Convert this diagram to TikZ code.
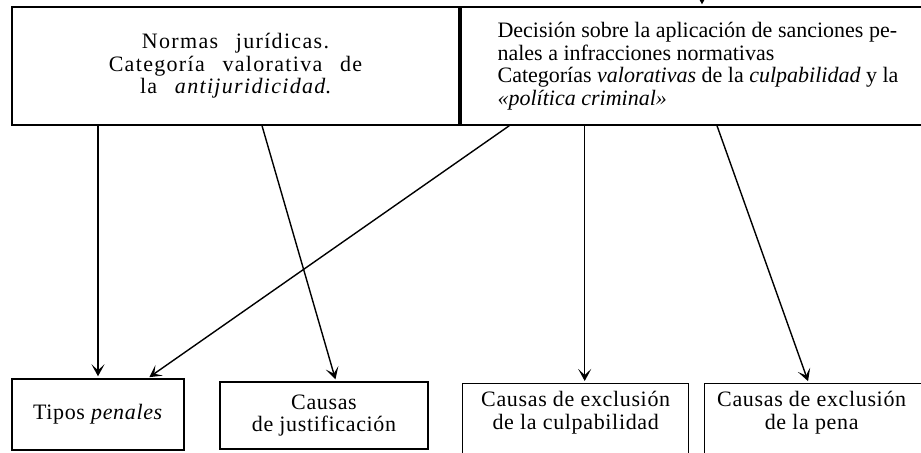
\documentclass[tikz,border=0pt]{standalone}
\usepackage{fontspec}
\setmainfont{Liberation Serif}
\newfontfamily\widefont[LetterSpace=6,WordSpace=2.6]{Liberation Serif}
\newfontfamily\looseFont[LetterSpace=3]{Liberation Serif}
\usetikzlibrary{positioning,arrows.meta}

\begin{document}
\begin{tikzpicture}[x=0.5pt,y=-0.5pt,line width=0.7pt,
  txt/.style={align=center,inner sep=0pt,font=\looseFont\fontsize{11}{11.25}\selectfont},
  box/.style={txt,draw},
  frame/.style={draw,inner sep=0pt},
  arr/.style={-{Stealth[length=6pt,width=6.5pt,inset=3pt]},shorten >=1pt}]

  \useasboundingbox (0,0) rectangle (921,453);

  % upper row
  \node[box,font=\widefont\fontsize{11}{11.25}\selectfont,
    minimum width=223.5pt,minimum height=59pt] (normas) at (235.5,66)
    {Normas jurídicas.\\ Categoría valorativa de\\ la \textit{antijuridicidad}.};
  \node[box,font=\rmfamily\fontsize{11}{11.25}\selectfont,align=left,
    minimum width=237pt,minimum height=59pt] (decision) at (698,66)
    {Decisión sobre la aplicación de sanciones pe-\\ nales a infracciones normativas\\
     Categorías \textit{valorativas} de la \textit{culpabilidad} y la\\
     \textit{«política criminal»}};

  % lower row
  \node[box,minimum width=86pt,minimum height=35.5pt] (tipos) at (98,414.5)
    {Tipos \textit{penales}};
  \node[box,minimum width=104pt,minimum height=33.5pt] (justif) at (324,415.5)
    {Causas\\ de justificación};
  \node[frame,anchor=north west,minimum width=113pt,minimum height=45pt] (exculp) at (462,383) {};
  \node[txt,below=4pt of exculp.north] (exculptxt) {Causas de exclusión\\ de la culpabilidad};
  \node[frame,anchor=north west,minimum width=113pt,minimum height=45pt] (expena) at (704,383) {};
  \node[txt,below=4pt of expena.north,xshift=-3pt] (expenatxt) {Causas de exclusión\\ de la pena};

  % arrows
  \coordinate (up) at (702,-20);
  \draw[arr] (up) -- (decision.north -| up);
  \draw[arr] (tipos.north |- normas.south) -- (tipos.north);
  \draw[arr] ([xshift=13.25pt]normas.south) -- ([xshift=6pt]justif.north);
  \draw[arr] ([xshift=24.5pt]decision.south west) -- ([xshift=-18.5pt]tipos.north east);
  \draw[arr] ([xshift=4.5pt]exculp.north |- decision.south) -- ([xshift=4.5pt]exculp.north);
  \draw[arr] ([xshift=9.5pt]decision.south) -- ([xshift=-4.5pt]expena.north);
\end{tikzpicture}
\end{document}
